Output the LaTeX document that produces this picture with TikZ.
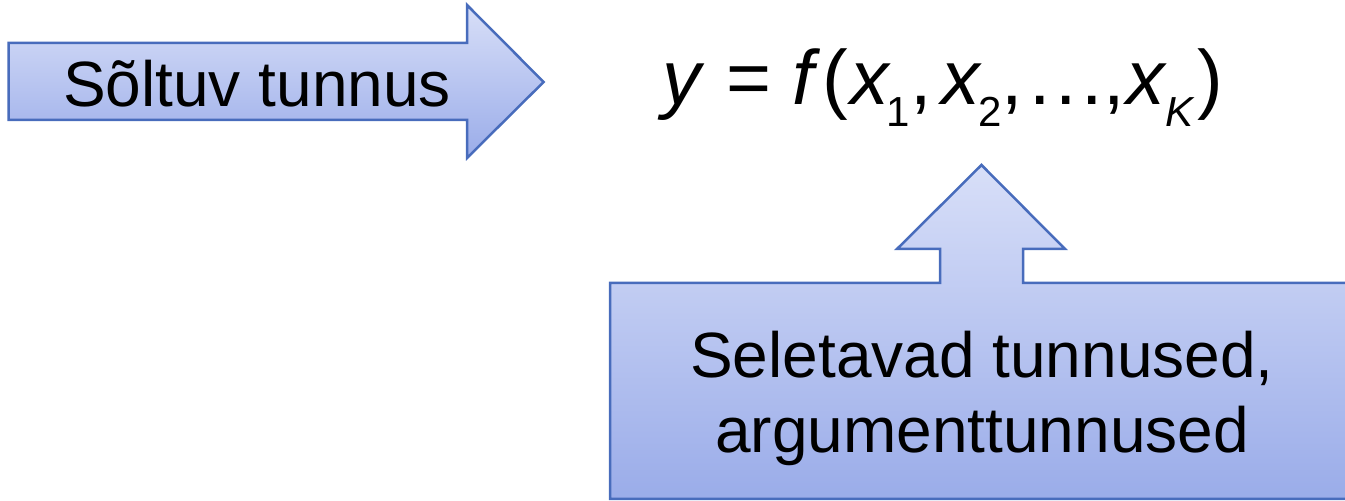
\documentclass[tikz,border=0pt]{standalone}
\usepackage{fontspec}
\setmainfont{Liberation Sans}
\usetikzlibrary{positioning}
\definecolor{arrline}{RGB}{72,108,188}
\definecolor{arrtop}{RGB}{216,223,248}
\definecolor{arrbot}{RGB}{154,172,233}
\tikzset{
  arrshape/.style={draw=arrline, line width=1.25pt, top color=arrtop,
                   bottom color=arrbot, line join=miter},
  caption/.style={font=\fontsize{32}{37.5}\selectfont, align=center, inner sep=0pt},
}
\newcommand{\lowsub}[1]{\raisebox{-11pt}{\fontsize{21}{22}\selectfont #1}}

\begin{document}
\begin{tikzpicture}[x=0.5pt, y=-0.5pt]
  \useasboundingbox (0,0) rectangle (1345,501);
  \clip (0,0) rectangle (1345,501);

  % dependent variable arrow
  \draw[arrshape] (8.6,43) -- (467,43) -- (467,5) -- (543.6,82)
    -- (467,158) -- (467,120) -- (8.6,120) -- cycle;
  \node[caption, anchor=base] (dep) at (257,107) {Sõltuv tunnus};

  % model
  \node[anchor=base west, inner sep=0pt, font=\fontsize{38.5}{44}\selectfont] (eq) at (662,105)
    {\textit{y} = \textit{f}\kern1pt(\kern1pt\textit{x}\kern-2pt\lowsub{1},\kern5pt%
     \textit{x}\kern-2pt\lowsub{2},\kern3pt.\kern2.5pt.\kern2.5pt.,\kern1pt%
     \textit{x}\kern-1pt\lowsub{\textit{K}}\kern1pt)};

  % explanatory variables callout
  \draw[arrshape] (610,283) -- (940,283) -- (940,249) -- (897,249) -- (981.5,165)
    -- (1065,249) -- (1023,249) -- (1023,283) -- (1360,283) -- (1360,499)
    -- (610,499) -- cycle;
  \node[caption, anchor=base] (expl) at (982,453) {Seletavad tunnused,\\argumenttunnused};
\end{tikzpicture}
\end{document}
